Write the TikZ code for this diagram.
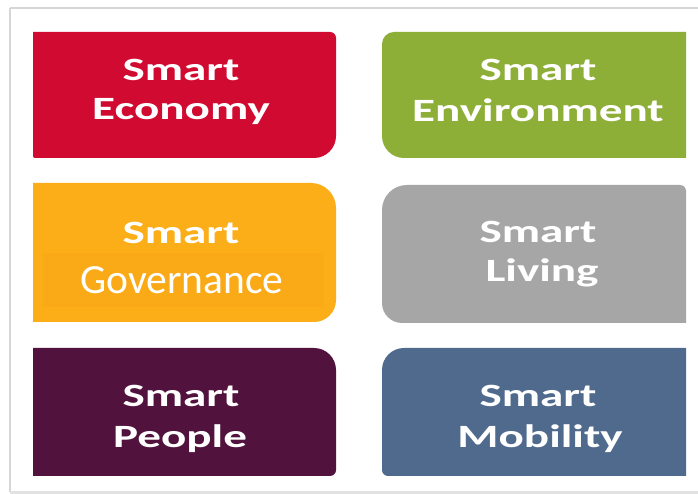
\documentclass[tikz,border=0pt]{standalone}
\usepackage{fontspec}
\newfontfamily\boxfont{Carlito}
\definecolor{ecoC}{HTML}{D10A31}
\definecolor{envC}{HTML}{8DAF37}
\definecolor{govC}{HTML}{FBAE17}
\definecolor{govIn}{HTML}{FAAA16}
\definecolor{livC}{HTML}{A6A6A6}
\definecolor{peoC}{HTML}{52123E}
\definecolor{mobC}{HTML}{506A8E}
\definecolor{frameC}{HTML}{D6D6D6}
\newcommand\SBox[9]{%
  \fill[#9] ({#1+#5},{494-#2}) -- ({#3-#6},{494-#2})
    arc[start angle=90,end angle=0,radius=#6pt] -- (#3,{494-#4+#7})
    arc[start angle=0,end angle=-90,radius=#7pt] -- ({#1+#8},{494-#4})
    arc[start angle=-90,end angle=-180,radius=#8pt] -- (#1,{494-#2-#5})
    arc[start angle=180,end angle=90,radius=#5pt] -- cycle;}
\tikzset{
  boldtxt/.style={font=\boxfont\bfseries\fontsize{32.5}{38}\selectfont, text=white, xscale=1.45, anchor=base, inner sep=0pt},
  regtxt/.style={font=\boxfont\fontsize{41.5}{48}\selectfont, text=white, anchor=base, inner sep=0pt}
}
\begin{document}
\begin{tikzpicture}[x=1pt,y=1pt]
\useasboundingbox (0,0) rectangle (698,494);
\fill[white] (0,0) rectangle (698,494);
% frame
\draw[frameC, line width=1.5pt] (10,{494-8}) -- (700,{494-8});
\draw[frameC, line width=1.5pt] (10,{494-8}) -- (10,{494-492});
\fill[frameC!70] (10,0) rectangle (698,3);
% boxes
\SBox{33}{32}{336}{158}{0.01}{6}{22}{2}{ecoC}
\SBox{382}{32}{686}{158}{12}{0.01}{0.01}{22}{envC}
\SBox{33}{183}{336}{322}{0.01}{25}{22}{0.01}{govC}
\fill[govIn] (43,{494-253}) rectangle (324,{494-307});
\SBox{382}{185}{686}{323}{25}{6}{0.01}{20}{livC}
\SBox{33}{348}{336}{476}{0.01}{22}{6}{0.01}{peoC}
\SBox{382}{348}{686}{476}{22}{0.01}{0.01}{6}{mobC}
% texts
\node[boldtxt] (eco1) at (181,{494-81}) {Smart};
\node[boldtxt] (eco2) at (181,{494-120}) {Economy};
\node[boldtxt] (env1) at (538,{494-81}) {Smart};
\node[boldtxt] (env2) at (538,{494-122}) {Environment};
\node[boldtxt] (gov1) at (181,{494-244}) {Smart};
\node[regtxt] (gov2) at (182,{494-294}) {Governance};
\node[boldtxt] (liv1) at (538,{494-243}) {Smart};
\node[boldtxt] (liv2) at (542,{494-282}) {Living};
\node[boldtxt] (peo1) at (181,{494-407}) {Smart};
\node[boldtxt] (peo2) at (180,{494-448}) {People};
\node[boldtxt] (mob1) at (538,{494-407}) {Smart};
\node[boldtxt] (mob2) at (540,{494-448}) {Mobility};
\end{tikzpicture}
\end{document}
